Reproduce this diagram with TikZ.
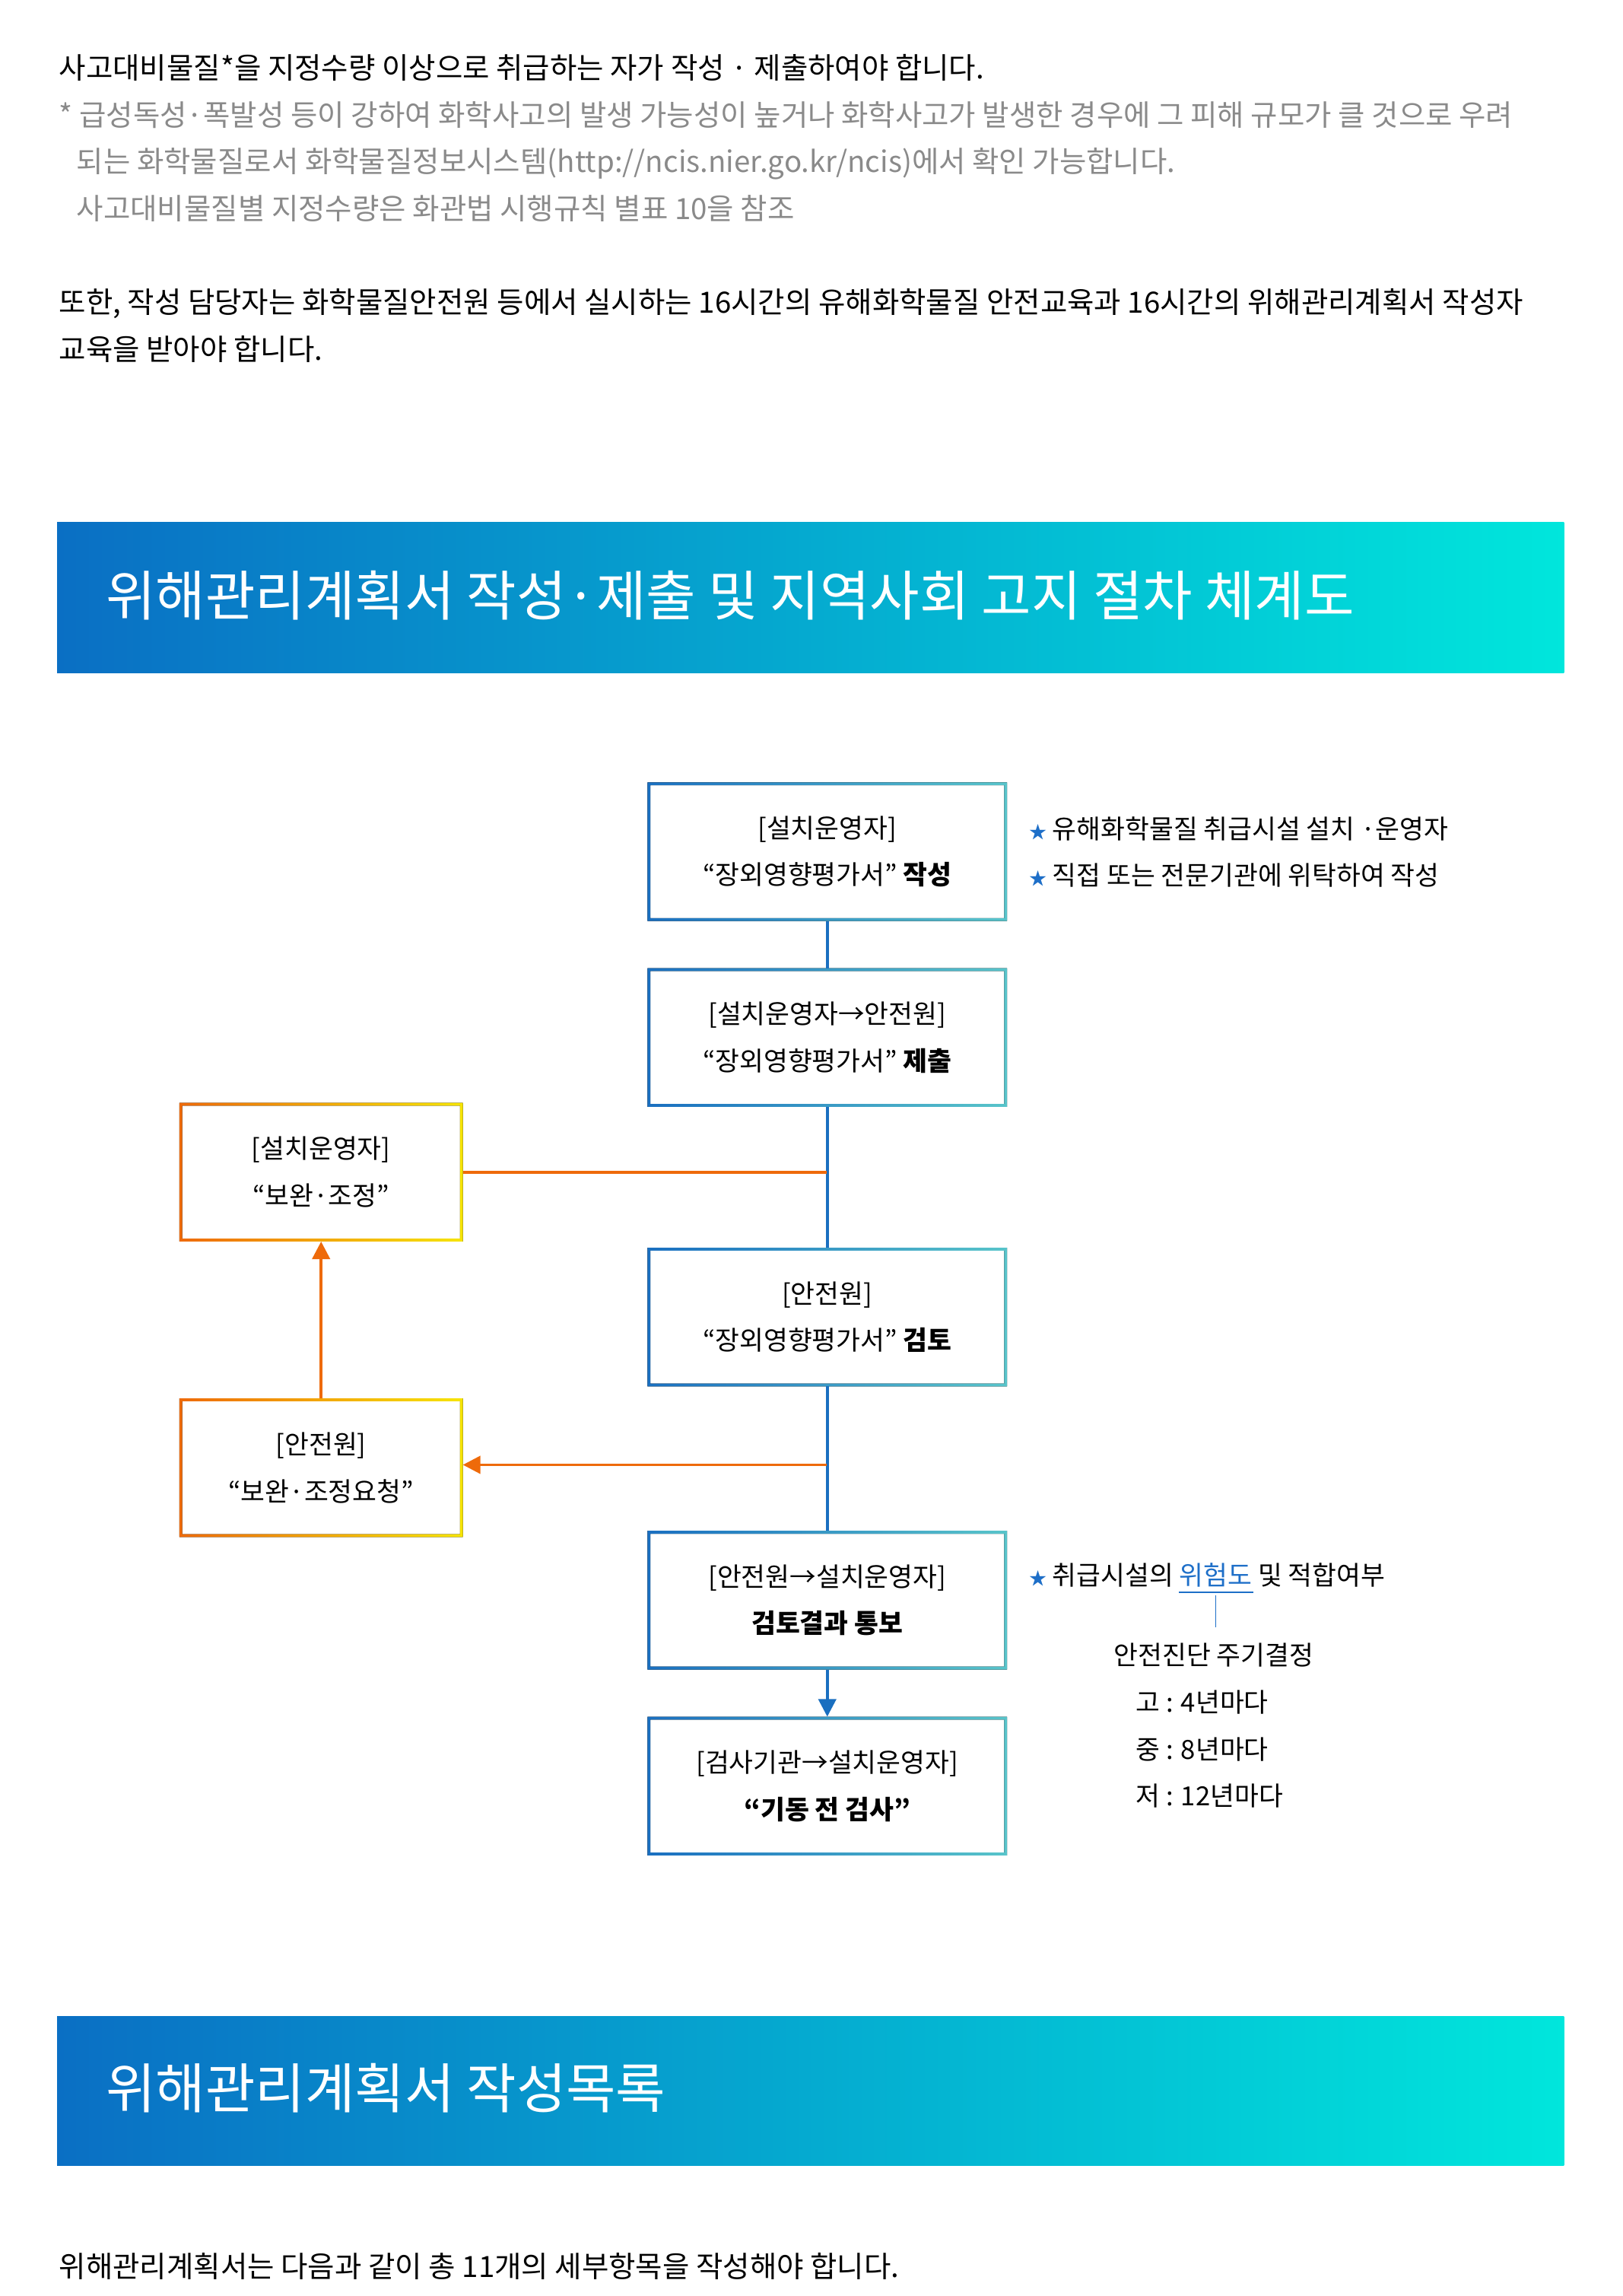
\documentclass[tikz,border=0pt]{standalone}
\usepackage{fontspec}
\setmainfont{Noto Sans CJK KR}
\usetikzlibrary{arrows.meta}
\definecolor{bxblue}{HTML}{1A6FC0}
\definecolor{bxteal}{HTML}{58C4CA}
\definecolor{bnblue}{HTML}{0A6FC4}
\definecolor{bnteal}{HTML}{00E6DC}
\definecolor{bxorange}{HTML}{EE6A0A}
\definecolor{bxyellow}{HTML}{F6E400}
\definecolor{txgray}{HTML}{8A8A8A}
\definecolor{lkblue}{HTML}{1E6FC8}
\tikzset{
  body/.style={anchor=base west, inner sep=0pt, font=\fontsize{10}{12}\selectfont},
  box/.style={minimum width=122.5pt, minimum height=47pt, inner sep=0pt, align=center,
    font=\fontsize{9}{16}\selectfont},
  note/.style={anchor=base west, inner sep=0pt, font=\fontsize{9}{12}\selectfont},
  flow/.style={line width=1pt, bxblue},
  back/.style={line width=1pt, bxorange},
}
% gradient frame around a named box
\newcommand{\frameit}[3]{%
  \fill[left color=#2, right color=#3, even odd rule]
    (#1.south west) rectangle (#1.north east)
    ([shift={(1pt,1pt)}]#1.south west) rectangle ([shift={(-1pt,-1pt)}]#1.north east);}
\begin{document}
\begin{tikzpicture}[x=0.5pt, y=-0.5pt]
  \useasboundingbox (0,0) rectangle (1109,1569);

  % intro text
  \node[body] (l1) at (40,54) {사고대비물질*을 지정수량 이상으로 취급하는 자가 작성 · 제출하여야 합니다.};
  \node[body, txgray] (l2) at (40,86) {* 급성독성·폭발성 등이 강하여 화학사고의 발생 가능성이 높거나 화학사고가 발생한 경우에 그 피해 규모가 클 것으로 우려};
  \node[body, txgray] (l3) at (52,118) {되는 화학물질로서 화학물질정보시스템(http://ncis.nier.go.kr/ncis)에서 확인 가능합니다.};
  \node[body, txgray] (l4) at (52,150) {사고대비물질별 지정수량은 화관법 시행규칙 별표 10을 참조};
  \node[body] (l5) at (40,214) {또한, 작성 담당자는 화학물질안전원 등에서 실시하는 16시간의 유해화학물질 안전교육과 16시간의 위해관리계획서 작성자};
  \node[body] (l6) at (40,246) {교육을 받아야 합니다.};

  % banner 1
  \fill[left color=bnblue, right color=bnteal] (39,357) rectangle (1069,460);
  \node[anchor=base west, inner sep=0pt, white, font=\fontsize{18.5}{20}\selectfont] (t1) at (72,421)
    {위해관리계획서\ 작성·제출 및 지역사회 고지 절차 체계도};

  % flow boxes
  \node[box] (write) at (565.5,582) {[설치운영자]\\“장외영향평가서” \textbf{작성}};
  \node[box] (submit) at (565.5,709) {[설치운영자→안전원]\\“장외영향평가서” \textbf{제출}};
  \node[box] (review) at (565.5,900) {[안전원]\\“장외영향평가서” \textbf{검토}};
  \node[box] (notify) at (565.5,1093.5) {[안전원→설치운영자]\\\textbf{검토결과 통보}};
  \node[box] (inspect) at (565.5,1220.5) {[검사기관→설치운영자]\\\textbf{“기동 전 검사”}};
  \node[box, minimum width=96.5pt] (adjust) at (219.5,801) {[설치운영자]\\“보완·조정”};
  \node[box, minimum width=96.5pt] (request) at (219.5,1003) {[안전원]\\“보완·조정요청”};
  \foreach \b in {write, submit, review, notify, inspect}
    {\frameit{\b}{bxblue}{bxteal}}
  \foreach \b in {adjust, request}
    {\frameit{\b}{bxorange}{bxyellow}}

  % connectors
  \coordinate (j1) at (565,801);
  \coordinate (j2) at (565,1001);
  \draw[flow] (write) -- (submit);
  \draw[flow] (submit) -- (review);
  \draw[flow] (review) -- (notify);
  \draw[flow, -{Triangle[length=6pt, width=6pt]}] (notify) -- (inspect);
  \draw[back] (adjust.east |- j1) -- (j1);
  \draw[back, -{Triangle[length=6pt, width=6pt]}] (j2) -- (request.east |- j2);
  \draw[back, -{Triangle[length=6pt, width=6pt]}] (request.north) -- (adjust.south);

  % side notes
  \node[note] (n1) at (703,573) {{\color{lkblue}\fontsize{6}{6}\selectfont★}\ 유해화학물질 취급시설 설치 ·운영자};
  \node[note] (n2) at (703,605) {{\color{lkblue}\fontsize{6}{6}\selectfont★}\ 직접 또는 전문기관에 위탁하여 작성};
  \node[note] (n3) at (703,1083) {{\color{lkblue}\fontsize{6}{6}\selectfont★}\ 취급시설의 \textcolor{lkblue}{위험도} 및 적합여부};
  \draw[lkblue, line width=0.5pt] (806,1088) -- (857,1088);
  \draw[lkblue, line width=0.5pt] (831,1090) -- (831,1112);
  \node[note] (n4) at (761,1138) {안전진단 주기결정};
  \node[note] (n5) at (776,1170) {고 : 4년마다};
  \node[note] (n6) at (776,1202) {중 : 8년마다};
  \node[note] (n7) at (776,1234) {저 : 12년마다};

  % banner 2
  \fill[left color=bnblue, right color=bnteal] (39,1378) rectangle (1069,1480);
  \node[anchor=base west, inner sep=0pt, white, font=\fontsize{18.5}{20}\selectfont] (t2) at (72,1441)
    {위해관리계획서\ 작성목록};

  \node[body] (l7) at (40,1556) {위해관리계획서는 다음과 같이 총 11개의 세부항목을 작성해야 합니다.};
\end{tikzpicture}
\end{document}
